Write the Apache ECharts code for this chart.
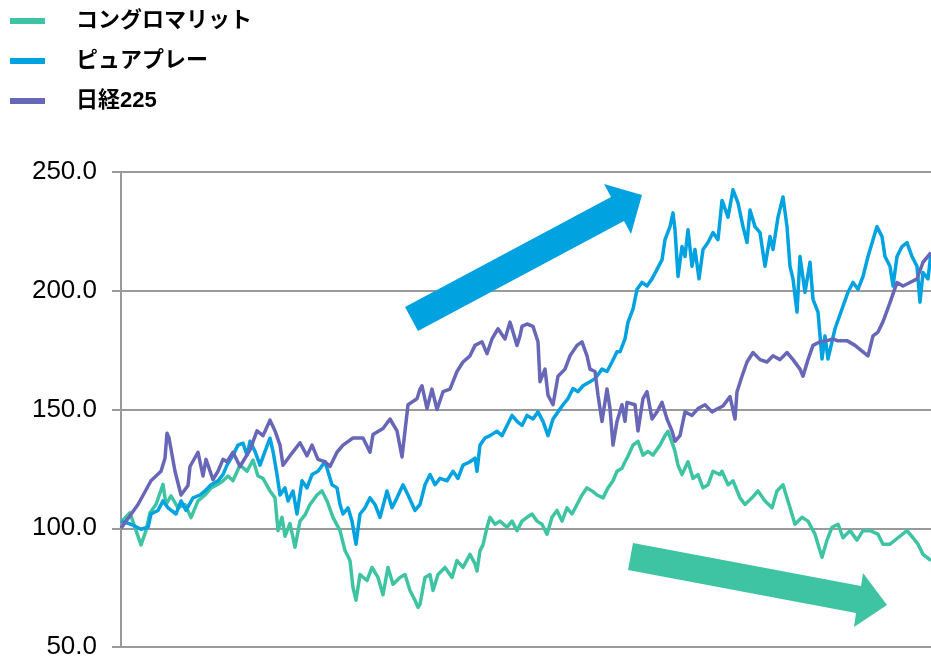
<!DOCTYPE html>
<html>
<head>
<meta charset="utf-8">
<script src="https://cdn.jsdelivr.net/npm/echarts@6/dist/echarts.min.js"></script>
<style>
  html, body { margin: 0; padding: 0; background: #ffffff; }
  #chart { width: 931px; height: 660px; }
</style>
</head>
<body>
<div id="chart"></div>
<script>
// Indexed performance (start = 100), trading-day index on the x axis
const seriesNames = ['コングロマリット', 'ピュアプレー', '日経225'];
const yTicks = [50, 100, 150, 200, 250];

const conglomerateDays = [0,9,14,20,25,29,35,42,45,50,57,64,70,77,84,90,97,102,107,112,119,126,132,137,142,149,154,157,161,164,169,174,179,184,189,196,201,206,212,219,224,229,232,235,239,246,251,257,262,267,272,279,284,289,294,297,299,304,309,312,317,324,331,336,342,349,354,356,359,362,366,369,374,379,386,391,396,401,406,411,416,421,426,431,436,441,446,451,456,461,466,471,476,482,487,492,496,501,504,506,512,517,522,527,532,539,544,547,552,554,557,561,567,572,577,582,587,592,599,601,607,612,619,624,631,637,644,651,656,662,669,674,681,687,694,697,701,706,711,717,722,729,736,742,749,757,762,769,777,786,792,797,802,810];
const conglomerateValues = [102.5,106.5,100.3,93,99,106.5,110,118.5,110,113.6,108.6,110,104.5,111.5,114,117,118.5,120,122,120,126.6,124,128.7,122,121,115.7,112.8,99,104.6,96.6,102,92,103,105.6,110,114,115.7,111.5,104.6,99,90.6,86.4,75,69.7,80.5,78,83.5,79.3,72,83.5,76.4,79.3,80.5,73.8,69.7,66.7,68,79.3,80.5,73.8,80.5,83.5,79.3,86.4,83.5,89,85,82,90.6,93,100.4,104.6,101.7,103,100.4,103,99,103,104.6,106,103,101.7,97.5,104.6,107.5,103,108.6,106,110,114,117,115.7,114,112.8,117,120,124,125.3,128,129.5,135,136.6,130.8,132.4,130.8,135,139,140.8,135,132.4,126.6,122.6,128,121,122.6,117,118.3,124,122.6,124,118.3,120,112.8,110,112.8,115.7,111.5,108.6,115.7,118.3,108.6,101.7,104.6,103,97.5,93.3,87.8,95,100.4,101.7,96,99,95,99,99,97.5,93.3,93.3,96,99,96,93.3,89,86.4];

const pureplayDays = [0,10,20,27,30,37,42,47,55,60,65,72,79,84,90,97,102,106,112,117,122,126,129,134,139,144,149,152,156,159,164,167,172,176,181,186,191,197,204,206,211,216,219,222,227,231,235,239,244,249,254,259,266,271,276,282,287,294,299,304,309,314,319,326,332,337,342,349,354,356,359,364,369,376,381,386,391,396,401,406,412,417,422,427,432,437,442,447,452,457,462,469,474,481,486,491,496,499,504,507,512,516,521,526,531,536,541,544,549,552,554,557,561,564,567,571,574,578,582,587,592,597,601,602,607,612,617,622,626,629,634,639,644,649,652,657,662,666,669,672,676,679,684,689,692,697,701,704,707,714,721,727,732,737,742,747,752,756,761,764,769,772,776,781,786,791,796,799,802,807,810];
const pureplayValues = [103,101.7,99.6,100.4,106,107.5,111.5,108.6,106,111.5,107.5,112.8,114,115.7,118.3,120,122.6,126.6,130.8,135,135.8,130.8,136.6,132.4,126.6,132.4,137.9,132.4,122.6,114,117,111.5,115.7,106,120,117,122.6,124,128,125.3,118.3,117,110,106,108.6,103,93.3,106,108.6,112.8,110,104.6,115.7,108.6,112.8,118.3,114,107.5,110,118.3,122.6,118.3,121,120,124,121,126.6,128,129.5,124,135,138,139,140.8,139,143.3,147.5,145,143.3,147.5,146,149,145,139,146,149,152,154.6,158.8,157.5,160,161.7,163,167,166,170,174.3,174.3,179.7,186.8,192.3,200.6,203.5,202,205,209,213,221.5,227,232.8,225.7,206,218.6,214.4,225.7,210.3,217.4,205,217.4,220.3,224.5,221.5,238,237,231,242.5,237,227,220.3,234,227,224.5,210.3,222.8,217.4,231,239.5,227,210.3,205,191,214.4,199.4,212,196.4,191,171.3,181,171.3,184,192.3,199.4,203.5,200.6,206,214.4,221.5,227,222.8,214.4,210.3,202,214.4,218.6,220.3,214.4,210.3,195.2,207.7,205,216];

const nikkeiDays = [0,17,30,40,44,46,48,54,60,67,69,77,82,85,92,97,102,106,112,119,129,136,142,149,154,159,162,169,179,186,191,197,204,209,216,222,232,242,249,252,262,269,276,281,287,296,299,301,306,311,316,322,329,336,342,349,354,361,366,371,377,384,389,396,399,401,406,412,417,419,424,427,432,437,444,449,456,461,466,469,474,477,481,486,489,492,496,501,504,506,514,517,522,526,531,536,541,546,551,554,559,564,571,577,584,591,597,602,609,614,616,621,626,632,639,646,652,659,666,672,679,682,687,692,699,706,712,716,726,734,742,747,752,757,762,769,776,782,789,796,802,810];
const nikkeiValues = [100,110,120,124,129.5,140,138,124,114,118,126,132,122,129,120.5,124,129,128,132,126,133,141,139,145.5,141,135,126.5,130.5,136,130.5,135,129,128,126,132,135,138,138,132,139.5,142,146,141,130,152,154.5,158.6,160,150.4,158.6,150,157.5,158.6,166,170,172.6,177,178.5,173.5,179.7,184,179.7,186.8,177,181,185,186,185,178.5,161.7,167,156,152,164,167,172.6,177,178.5,172.6,167,166,156,145,158.6,150.4,135,145,152,145,153,152,141,154.6,157.5,146,149,153,146,141,136.6,139,149,147.5,150.4,152,149,150.4,151.5,155.4,146,157.5,164,170,174,171,170,172.6,171,174,171,167,164,171,177,178.5,179,179.7,179,179,177,174.3,172.6,181,182.6,187,195,203.5,202,203.5,205,212,216];

const colors = ['#3ec4a2', '#00a2e0', '#6866b6'];

function pairs(days, values) {
  return days.map((d, i) => [d, values[i]]);
}

const chart = echarts.init(document.getElementById('chart'));

const lineStyle = (c) => ({ color: c, width: 3.5, join: 'round' });

chart.setOption({
  animation: false,
  backgroundColor: '#ffffff',
  color: colors,
  legend: {
    orient: 'vertical',
    left: 10,
    top: 10,
    padding: 0,
    itemWidth: 35,
    itemHeight: 6,
    itemGap: 18,
    icon: 'rect',
    data: seriesNames,
    textStyle: {
      color: '#000000',
      fontSize: 22,
      fontWeight: 'bold',
      fontFamily: '"Liberation Sans", "Noto Sans CJK JP", sans-serif',
      lineHeight: 22,
      padding: [0, 0, 0, 26]
    }
  },
  grid: { left: 121, right: 0, top: 172, bottom: 10, containLabel: false },
  xAxis: {
    type: 'value',
    min: 0,
    max: 810,
    show: false
  },
  yAxis: {
    type: 'value',
    min: yTicks[0],
    max: yTicks[yTicks.length - 1],
    interval: 50,
    axisLine: { show: true, lineStyle: { color: '#9a9a9a', width: 2 } },
    axisTick: { show: true, length: 9, lineStyle: { color: '#9a9a9a', width: 2 } },
    splitLine: { show: true, lineStyle: { color: '#9a9a9a', width: 2 } },
    axisLabel: {
      margin: 24,
      color: '#000000',
      fontSize: 26,
      fontFamily: '"Liberation Sans", Arial, sans-serif',
      formatter: (v) => v.toFixed(1)
    }
  },
  series: [
    { name: seriesNames[0], type: 'line', symbol: 'none', data: pairs(conglomerateDays, conglomerateValues), lineStyle: lineStyle(colors[0]), z: 2 },
    { name: seriesNames[1], type: 'line', symbol: 'none', data: pairs(pureplayDays, pureplayValues), lineStyle: lineStyle(colors[1]), z: 3 },
    { name: seriesNames[2], type: 'line', symbol: 'none', data: pairs(nikkeiDays, nikkeiValues), lineStyle: lineStyle(colors[2]), z: 4 }
  ],
  graphic: [
    {
      // rising trend arrow
      type: 'polygon',
      z: 10,
      shape: { points: [[405, 307], [611, 197], [604, 184], [642, 195], [631, 234], [624, 221], [418, 331]] },
      style: { fill: colors[1] }
    },
    {
      // falling trend arrow
      type: 'polygon',
      z: 10,
      shape: { points: [[633, 543], [861, 586], [863, 573], [887, 605], [854, 627], [856, 613], [628, 570]] },
      style: { fill: colors[0] }
    }
  ]
});
</script>
</body>
</html>
